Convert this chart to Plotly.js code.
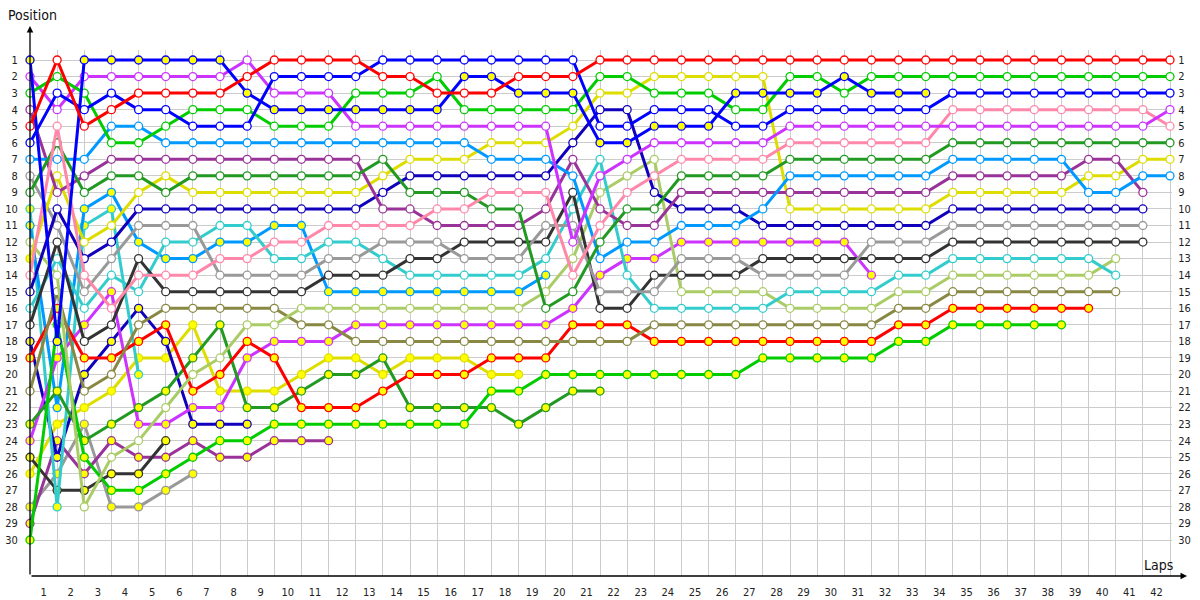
<!DOCTYPE html>
<html><head><meta charset="utf-8">
<script src="https://cdn.plot.ly/plotly-3.0.1.min.js"></script>
<style>html,body{margin:0;padding:0;background:#fff}#chart{width:1200px;height:600px}</style>
</head><body><div id="chart"></div>
<script>
// ---- tick labels ----
const lapLabels = [1,2,3,4,5,6,7,8,9,10,11,12,13,14,15,16,17,18,19,20,21,22,23,24,25,26,27,28,29,30,31,32,33,34,35,36,37,38,39,40,41,42];
const positionLabels = [1,2,3,4,5,6,7,8,9,10,11,12,13,14,15,16,17,18,19,20,21,22,23,24,25,26,27,28,29,30];

// ---- positions per lap (index 0 = grid) ----
const redWhite       = [5,1,5,4,3,3,3,3,2,1,1,1,1,2,2,3,3,3,2,2,2,1,1,1,1,1,1,1,1,1,1,1,1,1,1,1,1,1,1,1,1,1,1];
const greenWhite     = [3,2,3,6,6,5,4,4,4,5,5,5,3,3,3,2,4,4,4,4,4,2,2,3,3,3,4,4,2,2,3,2,2,2,2,2,2,2,2,2,2,2,2];
const blueWhite      = [6,3,4,3,4,4,5,5,5,2,2,2,2,1,1,1,1,1,1,1,1,5,5,4,4,4,5,5,4,4,4,4,4,4,3,3,3,3,3,3,3,3,3];
const blueYellow     = [1,18,1,1,1,1,1,1,3,4,4,4,4,4,4,4,2,2,3,3,3,6,6,5,5,5,3,3,3,3,2,3,3,3];
const magentaWhite   = [2,4,2,2,2,2,2,2,1,3,3,3,5,5,5,5,5,5,5,5,12,8,7,6,6,6,6,6,5,5,5,5,5,5,5,5,5,5,5,5,5,5,4];
const pinkWhite      = [14,5,14,16,14,14,14,13,13,12,12,11,11,11,11,10,10,9,9,9,14,11,9,8,7,7,7,7,6,6,6,6,6,6,4,4,4,4,4,4,4,4,5];
const darkgreenWhite = [9,6,9,8,8,9,8,8,8,8,8,8,8,7,9,9,9,10,10,16,15,12,10,10,8,8,8,8,7,7,7,7,7,7,6,6,6,6,6,6,6,6,6];
const lightblueWhite = [7,7,7,5,5,6,6,6,6,6,6,6,6,6,6,6,6,7,7,7,8,13,12,12,11,11,11,10,8,8,8,8,8,8,7,7,7,7,7,9,9,8,8];
const purpleWhite    = [4,9,8,7,7,7,7,7,7,7,7,7,7,10,10,11,11,11,11,10,7,10,11,11,9,9,9,9,9,9,9,9,9,9,8,8,8,8,8,7,7,9];
const yellowWhite    = [13,8,12,11,9,8,9,9,9,9,9,9,9,8,7,7,7,6,6,6,5,3,3,2,2,2,2,2,10,10,10,10,10,10,9,9,9,9,9,8,8,7,7];
const navyWhite      = [15,10,13,12,10,10,10,10,10,10,10,10,10,9,8,8,8,8,8,8,6,4,4,9,10,10,10,11,11,11,11,11,11,11,10,10,10,10,10,10,10,10];
const grayWhite      = [8,11,15,13,11,11,11,14,14,14,14,13,13,12,12,12,13,13,13,11,11,15,15,15,13,13,13,14,14,14,14,12,12,12,11,11,11,11,11,11,11,11];
const darkgrayWhite  = [17,12,18,17,13,15,15,15,15,15,15,14,14,14,13,13,12,12,12,12,9,16,16,14,14,14,14,13,13,13,13,13,13,13,12,12,12,12,12,12,12,12];
const cyanWhite      = [16,13,16,14,15,12,12,11,11,13,13,12,12,13,14,14,14,14,14,13,10,7,14,16,16,16,16,16,15,15,15,15,14,14,13,13,13,13,13,13,14];
const lightgreenWhite= [12,14,28,25,24,22,20,19,17,17,16,16,16,16,16,16,16,16,16,15,13,9,8,7,15,15,15,15,16,16,16,16,15,15,14,14,14,14,14,14,13];
const oliveWhite     = [21,15,21,20,17,16,16,16,16,16,17,17,18,18,18,18,18,18,18,18,18,18,18,17,17,17,17,17,17,17,17,17,16,16,15,15,15,15,15,15,15];
const redYellow      = [19,16,19,19,18,17,21,20,18,19,22,22,22,21,20,20,20,19,19,19,17,17,17,18,18,18,18,18,18,18,18,18,17,17,16,16,16,16,16,16];
const greenYellow    = [30,17,25,27,27,26,25,24,24,23,23,23,23,23,23,23,23,21,21,20,20,20,20,20,20,20,20,19,19,19,19,19,18,18,17,17,17,17,17];
const darkgreenYellow= [23,21,24,23,22,21,19,17,22,22,21,20,20,19,22,22,22,22,23,22,21,21];
const magentaYellow  = [24,19,17,15,23,23,22,22,19,18,18,18,17,17,17,17,17,17,17,17,16,14,13,13,12,12,12,12,12,12,12,14];
const lightblueYellow= [11,22,10,9,12,13,13,12,12,11,11,15,15,15,15,15,15,15,15,14];
const cyanYellow     = [10,28,11,10,20];
const navyYellow     = [18,25,20,18,16,18,23,23,23];
const darkgrayYellow = [25,27,27,26,26,24];
const yellowYellow   = [26,23,22,21,19,19,17,21,21,21,20,19,19,20,19,19,19,20,20];
const purpleYellow   = [29,24,26,24,25,25,24,25,25,24,24,24];
const grayYellow     = [28,26,23,28,28,27,26];

// ---- styling ----
const C = {red:'#ff0000', green:'#00cc00', blue:'#0000ff', magenta:'#cc33ff', pink:'#ff88aa',
  darkgreen:'#229922', lightblue:'#0099ff', purple:'#993399', yellow:'#dddd00', navy:'#1100bb',
  gray:'#999999', darkgray:'#333333', cyan:'#33cccc', lightgreen:'#aacc66', olive:'#888844'};
const W = '#ffffff', Y = '#ffff00';
// [positions, colour, marker fill, grid-marker fill]
const drivers = [
  [grayYellow,'gray',Y],[purpleYellow,'purple',Y],[yellowYellow,'yellow',Y],[darkgrayYellow,'darkgray',Y],
  [navyYellow,'navy',Y],[cyanYellow,'cyan',Y],[lightblueYellow,'lightblue',Y],[magentaYellow,'magenta',Y],
  [darkgreenYellow,'darkgreen',Y],[greenYellow,'green',Y],[redYellow,'red',Y],
  [oliveWhite,'olive',W],[lightgreenWhite,'lightgreen',W],[cyanWhite,'cyan',W],[darkgrayWhite,'darkgray',W],
  [grayWhite,'gray',W],[navyWhite,'navy',W],[yellowWhite,'yellow',W,Y],[purpleWhite,'purple',W],
  [lightblueWhite,'lightblue',W],[darkgreenWhite,'darkgreen',W],[pinkWhite,'pink',W],[magentaWhite,'magenta',W],
  [greenWhite,'green',W],[blueWhite,'blue',W],[blueYellow,'blue',Y],[redWhite,'red',W]
];
const traces = drivers.map(([pos,col,fill,gridFill]) => ({
  type:'scatter', mode:'lines+markers',
  x: pos.map((_,i)=>i), y: pos,
  line:{color:C[col], width:3},
  marker:{size:8, color: gridFill ? pos.map((_,i)=> i===0 ? gridFill : fill) : fill,
          line:{color:C[col], width:1.3}},
  hoverinfo:'skip', showlegend:false, cliponaxis:false
}));
// invisible anchor for the right-hand position axis
traces.push({type:'scatter', mode:'markers', x:[0], y:[1], yaxis:'y2', marker:{opacity:0}, hoverinfo:'skip', showlegend:false});

const PX_L=30, PX_R=1172, PX_T=50, PX_B=576;
const lapPx = (1170-30)/42, posPx = (540-60)/29;
const xMax = (PX_R-PX_L)/lapPx;
const yTop = 1-(60-PX_T)/posPx, yBot = 1+(PX_B-60)/posPx;
const font = {family:'Tahoma, "DejaVu Sans Condensed", "Liberation Sans", sans-serif', size:11, color:'#222'};
const gridVals = lapLabels.map(n=>n-1).concat([42]);

const layout = {
  width:1200, height:600, paper_bgcolor:'#fff', plot_bgcolor:'#fff',
  margin:{l:PX_L, r:1200-PX_R, t:PX_T, b:600-PX_B, pad:0},
  font:font,
  xaxis:{range:[0,xMax], tickmode:'array', tickvals:lapLabels.map(n=>n-0.5), ticktext:lapLabels.map(String),
    showgrid:false, zeroline:false, showline:false, ticks:'outside', ticklen:6, tickcolor:'rgba(0,0,0,0)',
    tickfont:font, fixedrange:true,
    minor:{tickmode:'array', tickvals:gridVals, showgrid:true, gridcolor:'#cccccc', gridwidth:1, ticks:''}},
  yaxis:{range:[yBot,yTop], tickmode:'array', tickvals:positionLabels, ticktext:positionLabels.map(String),
    showgrid:true, gridcolor:'#cccccc', gridwidth:1, zeroline:false, showline:false,
    ticks:'outside', ticklen:9, tickcolor:'rgba(0,0,0,0)', tickfont:font, fixedrange:true},
  yaxis2:{range:[yBot,yTop], overlaying:'y', side:'right', tickmode:'array', tickvals:positionLabels,
    ticktext:positionLabels.map(String), showgrid:false, zeroline:false, showline:false,
    ticks:'outside', ticklen:3, tickcolor:'rgba(0,0,0,0)', tickfont:font, fixedrange:true},
  annotations:[
    {xref:'paper', yref:'paper', x:(1187-PX_L)/(PX_R-PX_L), y:0, ax:-(1187-PX_L), ay:0, axref:'pixel', ayref:'pixel',
     text:'', showarrow:true, arrowhead:2, arrowsize:1, arrowwidth:1.3, arrowcolor:'#000'},
    {xref:'paper', yref:'paper', x:0, y:1+(PX_T-26)/(PX_B-PX_T), ax:0, ay:(PX_B-26), axref:'pixel', ayref:'pixel',
     text:'', showarrow:true, arrowhead:2, arrowsize:1, arrowwidth:1.3, arrowcolor:'#000'},
    {xref:'paper', yref:'paper', x:(1158-PX_L)/(PX_R-PX_L), y:(PX_B-565)/(PX_B-PX_T), text:'Laps',
     showarrow:false, font:{family:font.family, size:14, color:'#111'}, xanchor:'center', yanchor:'middle'},
    {xref:'paper', yref:'paper', x:(32-PX_L)/(PX_R-PX_L), y:(PX_B-15)/(PX_B-PX_T), text:'Position',
     showarrow:false, font:{family:font.family, size:14, color:'#111'}, xanchor:'center', yanchor:'middle'}
  ]
};
Plotly.newPlot('chart', traces, layout, {displayModeBar:false, staticPlot:true});
</script></body></html>
